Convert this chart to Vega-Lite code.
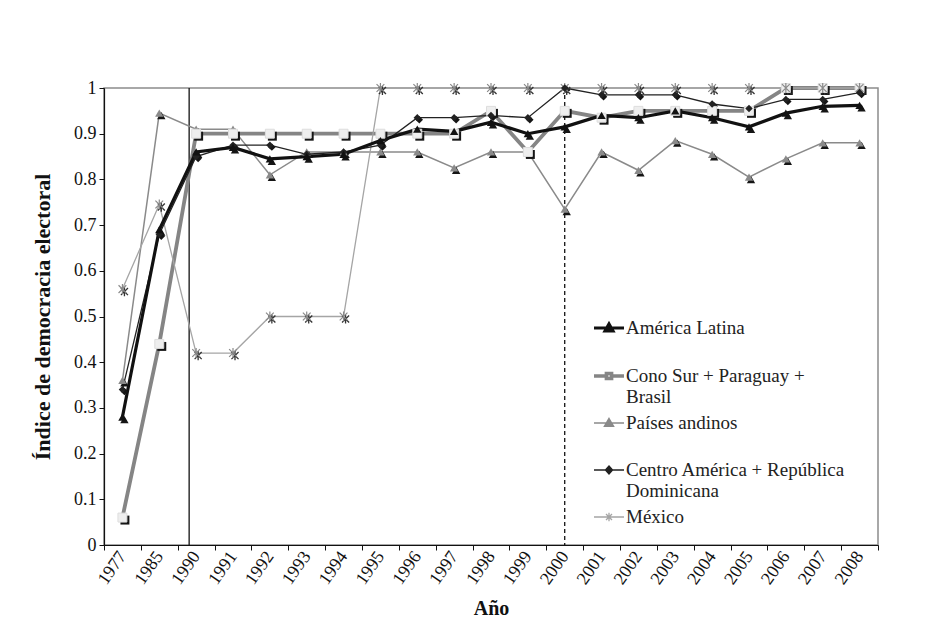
{
  "$schema": "https://vega.github.io/schema/vega-lite/v6.json",
  "autosize": "none",
  "width": 774,
  "height": 457,
  "padding": {"left": 104, "top": 88, "right": 53, "bottom": 97},
  "background": "white",
  "config": {
    "font": "Liberation Serif, Times New Roman, serif",
    "view": {"stroke": "#8c8c8c", "strokeWidth": 1.5},
    "axis": {"labelFont": "Liberation Serif, Times New Roman, serif", "titleFont": "Liberation Serif, Times New Roman, serif", "labelColor": "#111", "titleColor": "#111", "domainColor": "#111", "tickColor": "#111", "grid": false},
    "legend": {"labelFont": "Liberation Serif, Times New Roman, serif"}
  },
  "datasets": {
    "series": [
      {"year": "1977", "serie": "América Latina", "v": 0.28},
      {"year": "1985", "serie": "América Latina", "v": 0.69},
      {"year": "1990", "serie": "América Latina", "v": 0.86},
      {"year": "1991", "serie": "América Latina", "v": 0.87},
      {"year": "1992", "serie": "América Latina", "v": 0.845},
      {"year": "1993", "serie": "América Latina", "v": 0.85},
      {"year": "1994", "serie": "América Latina", "v": 0.855},
      {"year": "1995", "serie": "América Latina", "v": 0.885},
      {"year": "1996", "serie": "América Latina", "v": 0.91},
      {"year": "1997", "serie": "América Latina", "v": 0.905},
      {"year": "1998", "serie": "América Latina", "v": 0.925},
      {"year": "1999", "serie": "América Latina", "v": 0.9},
      {"year": "2000", "serie": "América Latina", "v": 0.915},
      {"year": "2001", "serie": "América Latina", "v": 0.94},
      {"year": "2002", "serie": "América Latina", "v": 0.935},
      {"year": "2003", "serie": "América Latina", "v": 0.95},
      {"year": "2004", "serie": "América Latina", "v": 0.935},
      {"year": "2005", "serie": "América Latina", "v": 0.915},
      {"year": "2006", "serie": "América Latina", "v": 0.945},
      {"year": "2007", "serie": "América Latina", "v": 0.96},
      {"year": "2008", "serie": "América Latina", "v": 0.962},
      {"year": "1977", "serie": "Cono Sur + Paraguay + Brasil", "v": 0.06},
      {"year": "1985", "serie": "Cono Sur + Paraguay + Brasil", "v": 0.44},
      {"year": "1990", "serie": "Cono Sur + Paraguay + Brasil", "v": 0.9},
      {"year": "1991", "serie": "Cono Sur + Paraguay + Brasil", "v": 0.9},
      {"year": "1992", "serie": "Cono Sur + Paraguay + Brasil", "v": 0.9},
      {"year": "1993", "serie": "Cono Sur + Paraguay + Brasil", "v": 0.9},
      {"year": "1994", "serie": "Cono Sur + Paraguay + Brasil", "v": 0.9},
      {"year": "1995", "serie": "Cono Sur + Paraguay + Brasil", "v": 0.9},
      {"year": "1996", "serie": "Cono Sur + Paraguay + Brasil", "v": 0.9},
      {"year": "1997", "serie": "Cono Sur + Paraguay + Brasil", "v": 0.9},
      {"year": "1998", "serie": "Cono Sur + Paraguay + Brasil", "v": 0.95},
      {"year": "1999", "serie": "Cono Sur + Paraguay + Brasil", "v": 0.86},
      {"year": "2000", "serie": "Cono Sur + Paraguay + Brasil", "v": 0.95},
      {"year": "2001", "serie": "Cono Sur + Paraguay + Brasil", "v": 0.935},
      {"year": "2002", "serie": "Cono Sur + Paraguay + Brasil", "v": 0.95},
      {"year": "2003", "serie": "Cono Sur + Paraguay + Brasil", "v": 0.95},
      {"year": "2004", "serie": "Cono Sur + Paraguay + Brasil", "v": 0.95},
      {"year": "2005", "serie": "Cono Sur + Paraguay + Brasil", "v": 0.95},
      {"year": "2006", "serie": "Cono Sur + Paraguay + Brasil", "v": 1.0},
      {"year": "2007", "serie": "Cono Sur + Paraguay + Brasil", "v": 1.0},
      {"year": "2008", "serie": "Cono Sur + Paraguay + Brasil", "v": 1.0},
      {"year": "1977", "serie": "Países andinos", "v": 0.36},
      {"year": "1985", "serie": "Países andinos", "v": 0.945},
      {"year": "1990", "serie": "Países andinos", "v": 0.91},
      {"year": "1991", "serie": "Países andinos", "v": 0.91},
      {"year": "1992", "serie": "Países andinos", "v": 0.81},
      {"year": "1993", "serie": "Países andinos", "v": 0.86},
      {"year": "1994", "serie": "Países andinos", "v": 0.86},
      {"year": "1995", "serie": "Países andinos", "v": 0.86},
      {"year": "1996", "serie": "Países andinos", "v": 0.86},
      {"year": "1997", "serie": "Países andinos", "v": 0.825},
      {"year": "1998", "serie": "Países andinos", "v": 0.86},
      {"year": "1999", "serie": "Países andinos", "v": 0.86},
      {"year": "2000", "serie": "Países andinos", "v": 0.735},
      {"year": "2001", "serie": "Países andinos", "v": 0.86},
      {"year": "2002", "serie": "Países andinos", "v": 0.82},
      {"year": "2003", "serie": "Países andinos", "v": 0.885},
      {"year": "2004", "serie": "Países andinos", "v": 0.855},
      {"year": "2005", "serie": "Países andinos", "v": 0.805},
      {"year": "2006", "serie": "Países andinos", "v": 0.845},
      {"year": "2007", "serie": "Países andinos", "v": 0.88},
      {"year": "2008", "serie": "Países andinos", "v": 0.88},
      {"year": "1977", "serie": "Centro América + República Dominicana", "v": 0.34},
      {"year": "1985", "serie": "Centro América + República Dominicana", "v": 0.68},
      {"year": "1990", "serie": "Centro América + República Dominicana", "v": 0.85},
      {"year": "1991", "serie": "Centro América + República Dominicana", "v": 0.875},
      {"year": "1992", "serie": "Centro América + República Dominicana", "v": 0.875},
      {"year": "1993", "serie": "Centro América + República Dominicana", "v": 0.855},
      {"year": "1994", "serie": "Centro América + República Dominicana", "v": 0.86},
      {"year": "1995", "serie": "Centro América + República Dominicana", "v": 0.875},
      {"year": "1996", "serie": "Centro América + República Dominicana", "v": 0.935},
      {"year": "1997", "serie": "Centro América + República Dominicana", "v": 0.935},
      {"year": "1998", "serie": "Centro América + República Dominicana", "v": 0.94},
      {"year": "1999", "serie": "Centro América + República Dominicana", "v": 0.935},
      {"year": "2000", "serie": "Centro América + República Dominicana", "v": 1.0},
      {"year": "2001", "serie": "Centro América + República Dominicana", "v": 0.985},
      {"year": "2002", "serie": "Centro América + República Dominicana", "v": 0.985},
      {"year": "2003", "serie": "Centro América + República Dominicana", "v": 0.985},
      {"year": "2004", "serie": "Centro América + República Dominicana", "v": 0.965},
      {"year": "2005", "serie": "Centro América + República Dominicana", "v": 0.955},
      {"year": "2006", "serie": "Centro América + República Dominicana", "v": 0.975},
      {"year": "2007", "serie": "Centro América + República Dominicana", "v": 0.975},
      {"year": "2008", "serie": "Centro América + República Dominicana", "v": 0.99},
      {"year": "1977", "serie": "México", "v": 0.56},
      {"year": "1985", "serie": "México", "v": 0.745},
      {"year": "1990", "serie": "México", "v": 0.42},
      {"year": "1991", "serie": "México", "v": 0.42},
      {"year": "1992", "serie": "México", "v": 0.5},
      {"year": "1993", "serie": "México", "v": 0.5},
      {"year": "1994", "serie": "México", "v": 0.5},
      {"year": "1995", "serie": "México", "v": 1.0},
      {"year": "1996", "serie": "México", "v": 1.0},
      {"year": "1997", "serie": "México", "v": 1.0},
      {"year": "1998", "serie": "México", "v": 1.0},
      {"year": "1999", "serie": "México", "v": 1.0},
      {"year": "2000", "serie": "México", "v": 1.0},
      {"year": "2001", "serie": "México", "v": 1.0},
      {"year": "2002", "serie": "México", "v": 1.0},
      {"year": "2003", "serie": "México", "v": 1.0},
      {"year": "2004", "serie": "México", "v": 1.0},
      {"year": "2005", "serie": "México", "v": 1.0},
      {"year": "2006", "serie": "México", "v": 1.0},
      {"year": "2007", "serie": "México", "v": 1.0},
      {"year": "2008", "serie": "México", "v": 1.0}
    ],
    "rules": [
      {"year": "1990", "kind": "solid"},
      {"year": "2000", "kind": "dashed"}
    ]
  },
  "data": {"name": "series"},
  "encoding": {
    "x": {
      "field": "year", "type": "ordinal",
      "scale": {"type": "band", "paddingInner": 0, "paddingOuter": 0,
        "domain": ["1977","1985","1990","1991","1992","1993","1994","1995","1996","1997","1998","1999","2000","2001","2002","2003","2004","2005","2006","2007","2008"]},
      "axis": {"title": "Año", "titleFontSize": 20, "titleFontWeight": "bold", "titlePadding": 11,
        "labelAngle": -55, "labelAlign": "right", "labelBaseline": "middle", "labelFontSize": 18, "labelPadding": 3,
        "tickBand": "extent", "tickSize": 5, "domainWidth": 1.2, "labelOverlap": false}
    },
    "y": {"field": "v", "type": "quantitative",
      "scale": {"domain": [0, 1], "nice": false},
      "axis": {"title": "Índice de democracia electoral", "titleFontSize": 22, "titleFontWeight": "bold", "titlePadding": 19,
        "values": [0,0.1,0.2,0.3,0.4,0.5,0.6,0.7,0.8,0.9,1], "format": ".1~f", "labelFontSize": 18, "tickSize": 5, "labelPadding": 3, "domainWidth": 1.2}}
  },
  "layer": [
    {
      "data": {"name": "rules"},
      "transform": [{"filter": "datum.kind == 'solid'"}],
      "mark": {"type": "rule", "color": "#111", "strokeWidth": 1.3, "xOffset": -7},
      "encoding": {"y": {"value": 0}, "y2": {"value": 457}}
    },
    {
      "data": {"name": "rules"},
      "transform": [{"filter": "datum.kind == 'dashed'"}],
      "mark": {"type": "rule", "color": "#111", "strokeWidth": 1.3, "strokeDash": [4, 3]},
      "encoding": {"y": {"value": 0}, "y2": {"value": 457}}
    },
    {
      "transform": [{"filter": "datum.serie == 'Países andinos'"}],
      "mark": {"type": "line", "color": "#8a8a8a", "strokeWidth": 1.5}
    },
    {
      "transform": [{"filter": "datum.serie == 'Cono Sur + Paraguay + Brasil'"}],
      "mark": {"type": "line", "color": "#858585", "strokeWidth": 3.8}
    },
    {
      "transform": [{"filter": "datum.serie == 'México'"}],
      "mark": {"type": "line", "color": "#a5a5a5", "strokeWidth": 1.3}
    },
    {
      "transform": [{"filter": "datum.serie == 'Centro América + República Dominicana'"}],
      "mark": {"type": "line", "color": "#222222", "strokeWidth": 1.3}
    },
    {
      "transform": [{"filter": "datum.serie == 'América Latina'"}],
      "mark": {"type": "line", "color": "#111111", "strokeWidth": 3.2}
    },
    {
      "transform": [{"filter": "datum.serie == 'Países andinos' || datum.serie == 'América Latina'"}],
      "mark": {"type": "point", "shape": "triangle-up", "filled": true, "color": "#151515", "size": 70, "opacity": 1, "xOffset": 2, "yOffset": 2.5}
    },
    {
      "transform": [{"filter": "datum.serie == 'Cono Sur + Paraguay + Brasil'"}],
      "mark": {"type": "point", "shape": "square", "filled": true, "color": "#151515", "size": 80, "opacity": 1, "xOffset": 2.5, "yOffset": 2.5}
    },
    {
      "transform": [{"filter": "datum.serie == 'Centro América + República Dominicana'"}],
      "mark": {"type": "point", "shape": "diamond", "filled": true, "color": "#151515", "size": 55, "opacity": 1, "xOffset": 2, "yOffset": 2}
    },
    {
      "transform": [{"filter": "datum.serie == 'México'"}],
      "mark": {"type": "point", "shape": "M-1,-1L1,1M-1,1L1,-1M0,-1.3V1.3", "filled": false, "color": "#333333", "strokeWidth": 1.3, "size": 50, "opacity": 1, "xOffset": 2, "yOffset": 2.5}
    },
    {
      "transform": [{"filter": "datum.serie == 'Países andinos'"}],
      "mark": {"type": "point", "shape": "triangle-up", "filled": true, "color": "#8a8a8a", "size": 70, "opacity": 1}
    },
    {
      "transform": [{"filter": "datum.serie == 'Cono Sur + Paraguay + Brasil'"}],
      "mark": {"type": "point", "shape": "square", "filled": true, "fill": "#eeeeee", "stroke": "#dddddd", "strokeWidth": 1, "size": 80, "opacity": 1}
    },
    {
      "transform": [{"filter": "datum.serie == 'México'"}],
      "mark": {"type": "point", "shape": "M-1,-1L1,1M-1,1L1,-1M0,-1.3V1.3", "filled": false, "color": "#8a8a8a", "strokeWidth": 1.2, "size": 60, "opacity": 1}
    },
    {
      "transform": [{"filter": "datum.serie == 'Centro América + República Dominicana'"}],
      "mark": {"type": "point", "shape": "diamond", "filled": true, "color": "#222222", "size": 55, "opacity": 1}
    },
    {
      "transform": [{"filter": "datum.serie == 'América Latina'"}],
      "mark": {"type": "point", "shape": "triangle-up", "filled": true, "color": "#111111", "size": 70, "opacity": 1}
    },
    {
      "transform": [{"filter": "false"}],
      "mark": {"type": "point", "filled": true, "opacity": 1},
      "encoding": {
        "y": {"value": 0},
        "shape": {"field": "serie", "type": "nominal",
          "scale": {"domain": ["América Latina", "Cono Sur + Paraguay + Brasil", "Países andinos", "Centro América + República Dominicana", "México"],
                    "range": ["M-1,0H1M0,-0.26L0.26,0.2H-0.26Z", "M-1,0H-0.22M0.22,0H1M-0.17,-0.17H0.17V0.17H-0.17Z", "M-1,0H1M0,-0.3L0.3,0.22H-0.3Z", "M-1,0H1M0,-0.27L0.24,0L0,0.27L-0.24,0Z", "M-1,0H1M-0.2,-0.2L0.2,0.2M-0.2,0.2L0.2,-0.2M0,-0.28V0.28"]},
          "legend": {
            "title": null, "orient": "none", "legendX": 488, "legendY": 223,
            "labelFontSize": 19, "labelColor": "#222", "labelLimit": 400,
            "symbolSize": 900, "labelOffset": 0, "rowPadding": 0,
            "labelExpr": "datum.label == 'Cono Sur + Paraguay + Brasil' ? ['Cono Sur + Paraguay +', 'Brasil'] : datum.label == 'Centro América + República Dominicana' ? ['Centro América + República', 'Dominicana'] : [datum.label, ' ']",
            "encode": {"labels": {"lineHeight": {"value": 21.5}}}
          }},
        "fill": {"field": "serie", "type": "nominal",
          "scale": {"domain": ["América Latina", "Cono Sur + Paraguay + Brasil", "Países andinos", "Centro América + República Dominicana", "México"],
                    "range": ["#111111", "#eeeeee", "#8a8a8a", "#222222", "transparent"]},
          "legend": {"title": null}},
        "stroke": {"field": "serie", "type": "nominal",
          "scale": {"domain": ["América Latina", "Cono Sur + Paraguay + Brasil", "Países andinos", "Centro América + República Dominicana", "México"],
                    "range": ["#111111", "#858585", "#8a8a8a", "#222222", "#a5a5a5"]},
          "legend": {"title": null}},
        "strokeWidth": {"field": "serie", "type": "nominal",
          "scale": {"type": "ordinal", "domain": ["América Latina", "Cono Sur + Paraguay + Brasil", "Países andinos", "Centro América + República Dominicana", "México"],
                    "range": [3.2, 3.6, 1.5, 1.3, 1.3]},
          "legend": {"title": null}}
      }
    }
  ]
}
